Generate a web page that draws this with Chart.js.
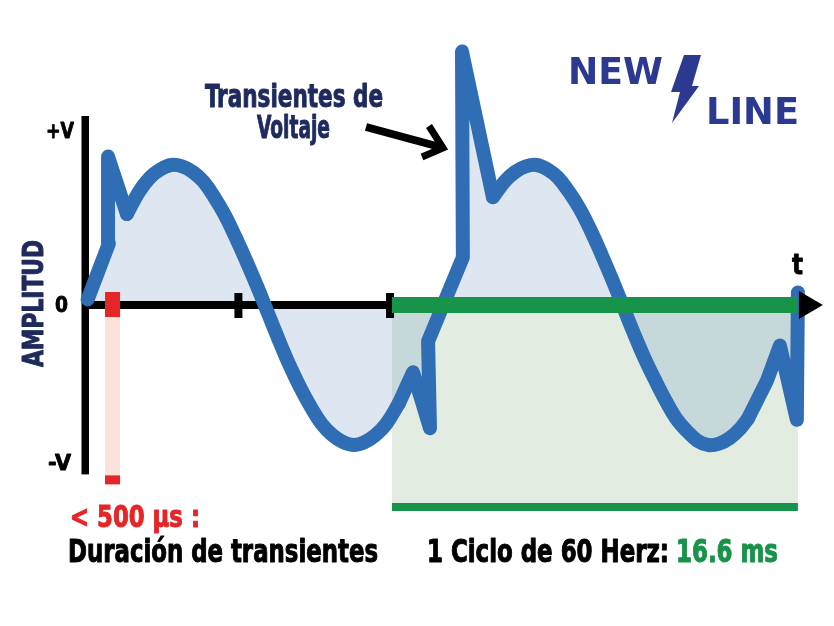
<!DOCTYPE html>
<html>
<head>
<meta charset="utf-8">
<script src="https://cdn.jsdelivr.net/npm/chart.js@4.4.0/dist/chart.umd.min.js"></script>
<style>
html,body{margin:0;padding:0;background:#fff;overflow:hidden;}
canvas{display:block;}
</style>
</head>
<body>
<canvas id="c" width="834" height="626"></canvas>
<script>
// ---- data (time in ms, amplitude normalised to the sine peak) ----
const timeMs = [0.1,1.09,1.05,1.93,2.5,3,3.5,4,4.5,5,5.5,6,6.5,7,7.5,8,8.5,9,9.5,10,10.5,11,11.5,12,12.5,13,13.5,14,14.6,15.25,16.04,15.95,17.57,17.53,18.97,19.5,20,20.5,21,21.5,22,22.5,23,23.5,24,24.5,25,25.5,26,26.5,27,27.5,28,28.5,29,29.5,30,30.5,30.85,31.73,32.33,33.12,33.17];
const amplitude = [0.04,0.44,1.06,0.65,0.81,0.91,0.97,1.0,0.99,0.95,0.88,0.77,0.64,0.48,0.31,0.13,-0.06,-0.25,-0.43,-0.59,-0.73,-0.85,-0.93,-0.98,-1.0,-0.98,-0.93,-0.85,-0.70,-0.48,-0.88,-0.26,0.34,1.81,0.77,0.88,0.95,0.99,1.0,0.97,0.91,0.81,0.69,0.54,0.37,0.19,0.0,-0.19,-0.37,-0.53,-0.68,-0.81,-0.90,-0.97,-1.0,-0.99,-0.95,-0.88,-0.81,-0.54,-0.29,-0.82,0.09];
// index ranges of the waveform: smooth sine stretches vs. sharp transient stretches
const smoothRanges = [[3, 28], [34, 58]];
const sharpRanges = [[0, 3], [28, 34], [58, 62]];
const yTickLabels = ['+V','0','-V'];
const yTickValues = [1.25, 0, -1.125];
const yAxisExtent = [1.35, -1.21];
const xAxisTicksMs = [7.12, 14.18];
const transientWindowMs = [0.91, 1.61];
const transientDepth = -1.26;
const cycleWindowMs = [14.27, 33.17];
const cycleDepth = -1.443;
const xMinMs = -3.98, xMaxMs = 34.85;
const yMinAmp = -2.2929, yMaxAmp = 2.1786;

const points = timeMs.map((t,i)=>({x:t, y:amplitude[i]}));

const COND = "'Liberation Sans Narrow','DejaVu Sans Condensed','Roboto Condensed',Roboto,sans-serif";
const WIDE = "'DejaVu Sans','Open Sans',sans-serif";

function fitText(ctx, text, x, baseline, width, size, color, family, stroke){
  ctx.save();
  ctx.font = 'bold ' + size + 'px ' + family;
  ctx.textBaseline = 'alphabetic';
  ctx.textAlign = 'left';
  const w = ctx.measureText(text).width;
  ctx.translate(x, baseline);
  ctx.scale(width / w, 1);
  ctx.fillStyle = color;
  ctx.fillText(text, 0, 0);
  if (stroke) { ctx.strokeStyle = color; ctx.lineWidth = stroke; ctx.lineJoin='round'; ctx.strokeText(text, 0, 0); }
  ctx.restore();
}

const LINE_FIRST = 1;

const overlay = {
  id: 'overlay',
  beforeDatasetsDraw(chart){
    const {ctx, scales:{x, y}} = chart;
    const x0 = x.getPixelForValue(cycleWindowMs[0]), x1 = x.getPixelForValue(cycleWindowMs[1]);
    const y0 = y.getPixelForValue(0), y1 = y.getPixelForValue(cycleDepth);
    ctx.save();
    ctx.fillStyle = '#e2ece0';
    ctx.fillRect(x0, y0, x1 - x0, y1 - y0);
    ctx.restore();
  },
  afterDatasetDraw(chart, args){
    if (args.index !== 0) return;
    const {ctx, scales:{x, y}} = chart;
    const ax = x.getPixelForValue(0), zy = y.getPixelForValue(0);
    ctx.save();
    ctx.fillStyle = '#000';
    const yt = y.getPixelForValue(yAxisExtent[0]), yb = y.getPixelForValue(yAxisExtent[1]);
    ctx.fillRect(ax - 4, yt, 7.5, yb - yt);
    const xe = x.getPixelForValue(xAxisTicksMs[1]);
    ctx.fillRect(ax, zy - 4, xe - ax, 8);
    xAxisTicksMs.forEach(t=>{
      const px = x.getPixelForValue(t);
      ctx.fillRect(px - 4, zy - 12, 8, 25);
    });
    const r0 = x.getPixelForValue(transientWindowMs[0]), r1 = x.getPixelForValue(transientWindowMs[1]);
    ctx.fillStyle = '#fce2d9';
    ctx.fillRect(r0, zy, r1 - r0, y.getPixelForValue(transientDepth) - zy);
    ctx.restore();
  },
  afterDatasetsDraw(chart){
    const {ctx, scales:{x, y}} = chart;
    const zy = y.getPixelForValue(0);
    ctx.save();
    const g0 = x.getPixelForValue(cycleWindowMs[0]), g1 = x.getPixelForValue(cycleWindowMs[1]);
    ctx.fillStyle = '#17934a';
    ctx.fillRect(g0, zy - 8, g1 - g0, 16);
    const gb = y.getPixelForValue(cycleDepth);
    ctx.fillRect(g0, gb - 4, g1 - g0, 8);
    const r0 = x.getPixelForValue(transientWindowMs[0]), r1 = x.getPixelForValue(transientWindowMs[1]);
    ctx.fillStyle = '#e52629';
    ctx.fillRect(r0, zy - 13, r1 - r0, 25);
    const rb = y.getPixelForValue(transientDepth);
    ctx.fillRect(r0, rb - 6, r1 - r0, 9);
    const ah = x.getPixelForValue(cycleWindowMs[1]);
    ctx.fillStyle = '#000';
    ctx.beginPath();
    ctx.moveTo(ah + 1, zy - 14);
    ctx.lineTo(ah + 25, zy);
    ctx.lineTo(ah + 1, zy + 14);
    ctx.closePath();
    ctx.fill();
    ctx.restore();

    yTickLabels.forEach((lab, i)=>{
      const py = y.getPixelForValue(yTickValues[i]);
      const widths = [28, 13, 23];
      const lefts = [46, 55, 48];
      fitText(ctx, lab, lefts[i], py + 7.5, widths[i], 22, '#000', COND, 0.8);
    });
    ctx.save();
    ctx.translate(43, 367);
    ctx.rotate(-Math.PI/2);
    fitText(ctx, 'AMPLITUD', 0, 0, 127, 29, '#1f2a5c', COND, 1);
    ctx.restore();
    fitText(ctx, 't', 792, 274, 11, 28, '#000', COND, 0.8);

    fitText(ctx, 'Transientes de', 205, 107, 178, 32, '#1e2a5e', COND, 1);
    fitText(ctx, 'Voltaje', 257, 138, 73, 32, '#1e2a5e', COND, 1);
    ctx.save();
    ctx.strokeStyle = '#000';
    ctx.lineWidth = 8;
    ctx.beginPath();
    ctx.moveTo(366, 127);
    ctx.lineTo(440, 147);
    ctx.stroke();
    ctx.lineWidth = 7;
    ctx.lineJoin = 'miter';
    ctx.beginPath();
    ctx.moveTo(429, 126);
    ctx.lineTo(443, 148);
    ctx.lineTo(422, 157);
    ctx.stroke();
    ctx.restore();

    fitText(ctx, '< 500 µs :', 70, 527, 130, 30, '#e52629', COND, 1);
    fitText(ctx, 'Duración de transientes', 68, 562, 310, 32, '#000', COND, 1);
    fitText(ctx, '1 Ciclo de 60 Herz:', 427, 562, 242, 32, '#000', COND, 1);
    fitText(ctx, '16.6 ms', 676, 562, 102, 32, '#17934a', COND, 1);

    fitText(ctx, 'NEW', 568, 84, 95, 37, '#2b3990', WIDE, 0);
    fitText(ctx, 'LINE', 706, 124, 93, 37, '#2b3990', WIDE, 0);
    ctx.save();
    ctx.fillStyle = '#2b3990';
    ctx.beginPath();
    ctx.moveTo(684, 55);
    ctx.lineTo(701, 55);
    ctx.lineTo(692, 86);
    ctx.lineTo(699, 86);
    ctx.lineTo(672, 123);
    ctx.lineTo(680, 92);
    ctx.lineTo(671, 92);
    ctx.closePath();
    ctx.fill();
    ctx.restore();
  }
};

function lineSet(range, tension){
  return {
    data: points.slice(range[0], range[1] + 1),
    fill: false,
    borderColor: '#2f6db4',
    borderWidth: 14,
    borderJoinStyle: 'round',
    borderCapStyle: 'round',
    pointRadius: 0,
    tension: tension,
    order: 1,
    clip: false
  };
}

const datasets = [
  {
    data: points,
    fill: 'origin',
    backgroundColor: 'rgba(120,156,200,0.25)',
    borderWidth: 0,
    pointRadius: 0,
    tension: 0,
    order: 2,
    clip: false
  }
];
smoothRanges.forEach(r => datasets.push(lineSet(r, 0.4)));
sharpRanges.forEach(r => datasets.push(lineSet(r, 0)));

new Chart(document.getElementById('c'), {
  type: 'line',
  data: { datasets: datasets },
  options: {
    responsive: false,
    animation: false,
    devicePixelRatio: 1,
    layout: { padding: 0 },
    plugins: { legend: { display: false }, tooltip: { enabled: false }, title: { display: false } },
    scales: {
      x: { type: 'linear', min: xMinMs, max: xMaxMs, display: false },
      y: { type: 'linear', min: yMinAmp, max: yMaxAmp, display: false }
    }
  },
  plugins: [overlay]
});
</script>
</body>
</html>
